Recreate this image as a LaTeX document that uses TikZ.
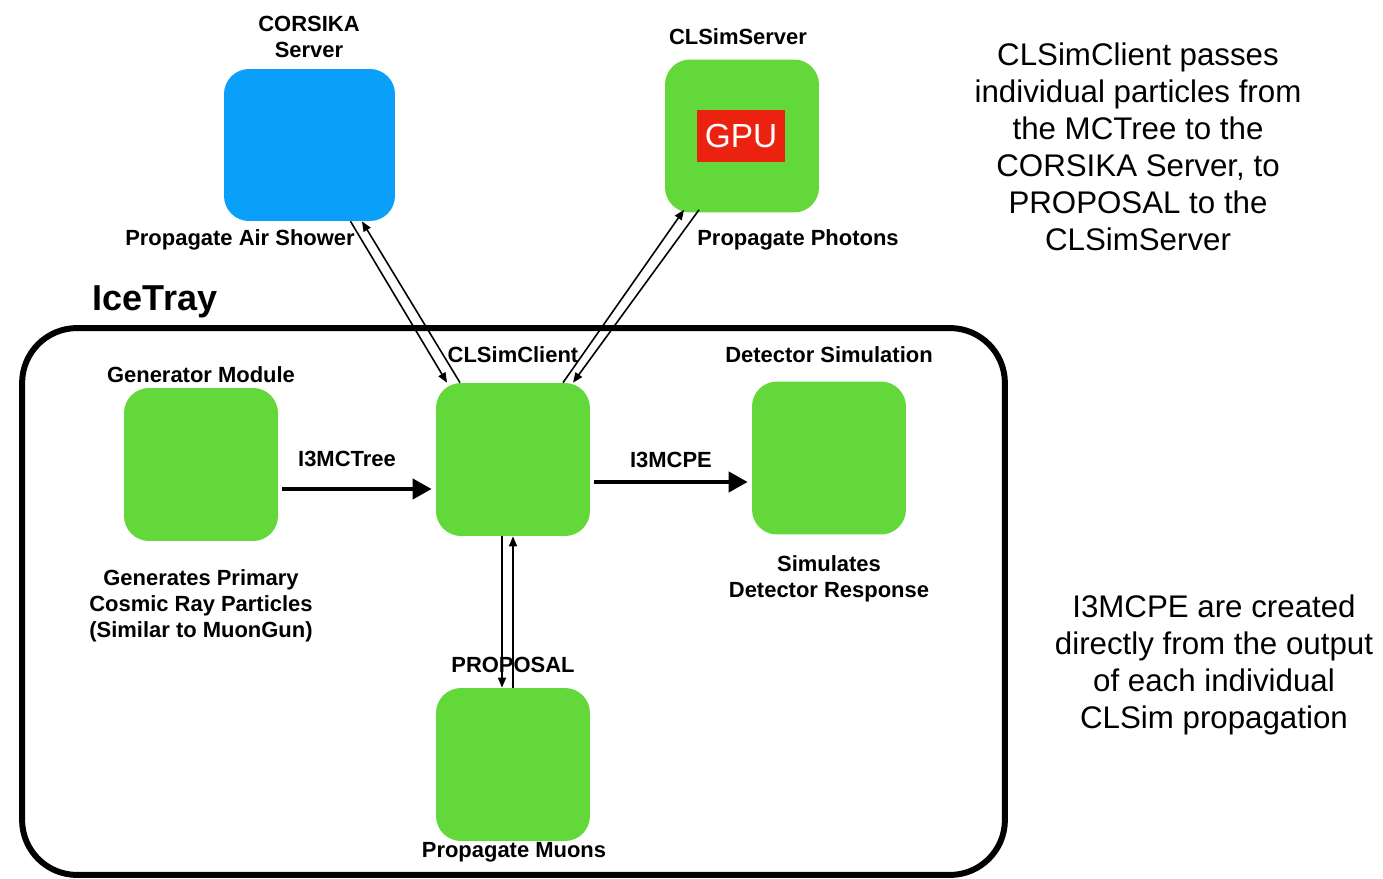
\documentclass[tikz,border=0pt]{standalone}
\usepackage{fontspec}
\setmainfont{Liberation Sans}
\usetikzlibrary{arrows.meta,positioning}
\definecolor{boxgreen}{RGB}{98,216,58}
\definecolor{boxblue}{RGB}{10,160,250}
\definecolor{gpured}{RGB}{236,34,16}
\begin{document}
\begin{tikzpicture}[x=0.02cm, y=-0.02cm,
  box/.style={fill=boxgreen, rounded corners=0.5cm, minimum width=3.08cm, minimum height=3.06cm, inner sep=0pt},
  lbl/.style={font=\bfseries\fontsize{12.5}{14.8}\selectfont, align=center, inner sep=0pt},
  note/.style={font=\fontsize{17.8}{21}\selectfont, align=center, inner sep=0pt},
  thin arrow/.style={line width=0.9pt, -{Triangle[length=0.2cm, width=0.16cm]}},
  thick arrow/.style={line width=2.3pt, -{Triangle[length=0.38cm, width=0.4cm]}, shorten >=0.08cm, shorten <=0.08cm}]
\useasboundingbox (0,0) rectangle (1383,879);
% servers outside IceTray
\node[box, fill=boxblue, minimum width=3.42cm, minimum height=3.04cm] (corsika) at (309.5,145) {};
\node[box] (server) at (742,136) {};
\node[fill=gpured, text=white, minimum width=1.76cm, minimum height=1.06cm, inner sep=0pt, font=\fontsize{19}{21}\selectfont] (gpu) at (741,136) {GPU};
\node[lbl] (corsikalbl) at (309,37) {CORSIKA\\Server};
\node[lbl] (serverlbl) at (738,37) {CLSimServer};
\node[lbl] (airlbl) at (240,240) {Propagate Air Shower};
\node[lbl] (photonlbl) at (798,240) {Propagate Photons};
% IceTray frame
\node[draw, line width=3.4pt, rounded corners=1.1cm, minimum width=19.66cm, minimum height=10.94cm, inner sep=0pt] (frame) at (513.5,601.5) {};
\node[font=\bfseries\fontsize{20.5}{24}\selectfont, inner sep=0pt] (icetray) at (155,302) {IceTray};
% modules
\node[box] (gen) at (201,464.5) {};
\node[box] (client) at (513,459.5) {};
\node[box] (det) at (829,458) {};
\node[box] (prop) at (513,764.5) {};
\node[lbl] (genlbl) at (201,375) {Generator Module};
\node[lbl] (clientlbl) at (513,355) {CLSimClient};
\node[lbl] (detlbl) at (829,355) {Detector Simulation};
\node[lbl] (gendesc) at (201,606) {Generates Primary\\Cosmic Ray Particles\\(Similar to MuonGun)};
\node[lbl] (detdesc) at (829,579) {Simulates\\Detector Response};
\node[lbl] (proplbl) at (513,665) {PROPOSAL};
\node[lbl] (muonlbl) at (514,852) {Propagate Muons};
\node[lbl] (treelbl) at (347,459) {I3MCTree};
\node[lbl] (pelbl) at (671,460) {I3MCPE};
% notes
\node[note] (note1) at (1138,147) {CLSimClient passes\\individual particles from\\the MCTree to the\\CORSIKA Server, to\\PROPOSAL to the\\CLSimServer};
\node[note] (note2) at (1214,665) {I3MCPE are created\\directly from the output\\of each individual\\CLSim propagation};
% data flow
\coordinate (treeA) at ([yshift=-0.49cm]gen.east);
\coordinate (peA) at ([yshift=-0.45cm]client.east);
\draw[thick arrow] (treeA) -- (treeA -| client.west);
\draw[thick arrow] (peA) -- (peA -| det.west);
\draw[thin arrow] ([xshift=0.82cm]corsika.south) -- ([xshift=-1.32cm]client.north);
\draw[thin arrow] ([xshift=-1.06cm]client.north) -- ([xshift=1.05cm]corsika.south);
\draw[thin arrow] ([xshift=1.0cm]client.north) -- ([xshift=-1.16cm,yshift=0.06cm]server.south);
\draw[thin arrow] ([xshift=-0.86cm,yshift=0.06cm]server.south) -- ([xshift=1.2cm]client.north);
\draw[thin arrow] ([xshift=-0.22cm]client.south) -- ([xshift=-0.22cm]prop.north);
\draw[thin arrow] (prop.north) -- (client.south);
\end{tikzpicture}
\end{document}
